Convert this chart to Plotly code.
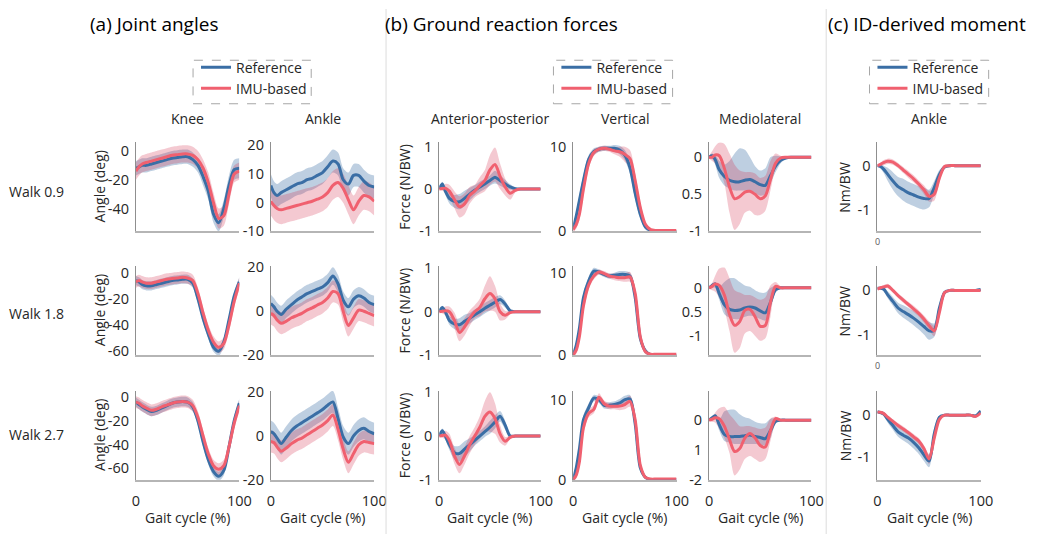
import plotly.graph_objects as go
from plotly.subplots import make_subplots

W, H = 1043, 543

# ---------------- data (gait cycle %) ----------------
GAIT = [0, 3, 6, 10, 15, 20, 25, 30, 35, 40, 45, 50, 55, 60, 65, 70, 75, 80, 85, 90, 95, 100]

# Knee angle (deg)
knee_ref_09 = [-12, -11, -10, -10, -9, -8, -7, -6, -5, -4.5, -4, -4, -6, -10, -18, -28, -44, -50, -40, -24, -13, -12]
knee_ref_09_sd = [5, 5, 5, 5, 5, 5, 5, 5, 5, 5, 5, 5, 5, 5, 6, 6, 6, 6, 6, 7, 7, 7]
knee_imu_09 = [-14, -11, -9, -8, -7, -6, -5, -4, -3, -2.5, -2, -2, -3, -6, -12, -22, -36, -47, -45, -30, -16, -14]
knee_imu_09_sd = [6, 6, 6, 6, 6, 6, 6, 6, 6, 6, 6, 6, 6, 6, 6, 7, 7, 7, 7, 7, 6, 6]
knee_ref_18 = [-6, -7, -9, -10, -10, -9, -8, -7, -6, -5.5, -5, -5, -8, -20, -35, -47, -57, -60, -53, -36, -18, -7]
knee_ref_18_sd = [3.5] * 22
knee_imu_18 = [-7, -6, -7, -8, -8, -7, -6, -5, -4.5, -4, -3.5, -4, -6, -16, -31, -44, -53, -57, -54, -40, -22, -8]
knee_imu_18_sd = [4.5] * 22
knee_ref_27 = [-4, -6, -8, -10, -12, -11, -9, -7, -5, -4, -3.5, -4, -8, -20, -38, -53, -63, -67, -62, -42, -20, -5]
knee_ref_27_sd = [4] * 22
knee_imu_27 = [-4, -5, -7, -9, -11, -10, -8, -6.5, -5, -4, -3.5, -4, -7, -17, -33, -48, -58, -61, -58, -42, -22, -7]
knee_imu_27_sd = [5] * 22

# Ankle angle (deg)
ankle_ref_09 = [6, 3.5, 2.5, 3.5, 4.5, 5.5, 6.5, 7, 8, 8.5, 9.5, 10.5, 12.5, 14.5, 13.5, 8, 6.5, 9.5, 9.5, 7.5, 6, 5.5]
ankle_ref_09_sd = [4] * 22
ankle_imu_09 = [0.5, -1, -2, -2.5, -2, -1.5, -1, -0.5, 0, 0.5, 1.2, 2, 3.5, 6, 7, 5, 1, -2.5, 0.5, 2.5, 2, 0.5]
ankle_imu_09_sd = [5] * 22
ankle_ref_18 = [3.5, 2, 0, -1.5, 1, 3, 5, 6.5, 8, 9, 10, 11, 13, 16, 12.5, 5, 2, 5.5, 7, 6, 4, 3]
ankle_ref_18_sd = [4] * 22
ankle_imu_18 = [-1, -2, -4, -5.5, -4.5, -3, -2, -1, 0.5, 1.5, 2.8, 4, 6, 9, 8, 0, -6.5, -3, 0.5, 0, -1, -2]
ankle_imu_18_sd = [5] * 22
ankle_ref_27 = [2, 1, -1, -3.5, -0.5, 2.5, 4.5, 6, 7.5, 9, 10.5, 12, 14, 15.5, 8, -0.5, -3.5, 0, 2.5, 3.5, 2, 1]
ankle_ref_27_sd = [5] * 22
ankle_imu_27 = [-2.5, -3, -5, -7, -5.5, -3.5, -2, -1, 0.5, 2, 3.5, 5, 7, 9.5, 3, -6, -12, -8, -4, -2.5, -3, -3.5]
ankle_imu_27_sd = [5] * 22

# Anterior-posterior GRF
ap_ref_09 = [0, 0.12, -0.05, -0.22, -0.29, -0.3, -0.22, -0.12, -0.03, 0.05, 0.12, 0.2, 0.28, 0.2, 0.12, 0.05, 0.01, 0, 0, 0, 0, 0]
ap_ref_09_sd = [0.02, 0.05, 0.08, 0.12, 0.15, 0.18, 0.18, 0.15, 0.12, 0.12, 0.12, 0.12, 0.15, 0.12, 0.1, 0.06, 0.03, 0.01, 0.01, 0.01, 0.01, 0.01]
ap_imu_09 = [0, 0.01, 0.02, -0.05, -0.25, -0.42, -0.35, -0.15, -0.05, 0.08, 0.2, 0.45, 0.58, 0.3, 0.05, -0.1, -0.03, 0, 0, 0, 0, 0]
ap_imu_09_sd = [0.02, 0.05, 0.1, 0.15, 0.2, 0.25, 0.25, 0.2, 0.15, 0.2, 0.25, 0.35, 0.4, 0.3, 0.2, 0.15, 0.05, 0.02, 0.01, 0.01, 0.01, 0.01]
ap_ref_18 = [0, 0.1, 0.0, -0.2, -0.28, -0.3, -0.22, -0.15, -0.07, 0.0, 0.08, 0.15, 0.22, 0.28, 0.18, 0.02, 0, 0, 0, 0, 0, 0]
ap_ref_18_sd = [0.02, 0.04, 0.06, 0.1, 0.12, 0.15, 0.15, 0.12, 0.12, 0.12, 0.12, 0.12, 0.12, 0.1, 0.08, 0.03, 0.01, 0.01, 0.01, 0.01, 0.01, 0.01]
ap_imu_18 = [0, 0.01, 0.02, 0.0, -0.2, -0.48, -0.35, -0.15, 0.0, 0.1, 0.3, 0.42, 0.3, 0.0, -0.08, -0.02, 0, 0, 0, 0, 0, 0]
ap_imu_18_sd = [0.02, 0.05, 0.1, 0.12, 0.18, 0.2, 0.2, 0.18, 0.15, 0.2, 0.3, 0.4, 0.3, 0.2, 0.1, 0.04, 0.01, 0.01, 0.01, 0.01, 0.01, 0.01]
ap_ref_27 = [0, 0.12, 0.0, -0.2, -0.38, -0.4, -0.3, -0.2, -0.1, 0.0, 0.1, 0.2, 0.32, 0.45, 0.25, 0.0, 0, 0, 0, 0, 0, 0]
ap_ref_27_sd = [0.02, 0.05, 0.08, 0.12, 0.15, 0.18, 0.18, 0.15, 0.12, 0.12, 0.12, 0.15, 0.15, 0.12, 0.1, 0.03, 0.01, 0.01, 0.01, 0.01, 0.01, 0.01]
ap_imu_27 = [0, 0.01, 0.02, -0.1, -0.45, -0.65, -0.45, -0.2, 0.0, 0.2, 0.45, 0.55, 0.4, 0.05, -0.12, -0.03, 0, 0, 0, 0, 0, 0]
ap_imu_27_sd = [0.02, 0.05, 0.1, 0.15, 0.18, 0.2, 0.2, 0.2, 0.2, 0.25, 0.35, 0.45, 0.35, 0.2, 0.1, 0.04, 0.01, 0.01, 0.01, 0.01, 0.01, 0.01]

# Vertical GRF
vt_ref_09 = [0.3, 1.8, 3.6, 6, 8.5, 9.4, 9.7, 9.8, 9.8, 9.8, 9.6, 9.0, 7.5, 4.5, 2, 0.5, 0.1, 0, 0, 0, 0, 0]
vt_ref_09_sd = [0.3, 0.5, 0.7, 0.7, 0.5, 0.4, 0.3, 0.3, 0.3, 0.4, 0.5, 0.6, 0.7, 0.7, 0.5, 0.3, 0.1, 0.05, 0.05, 0.05, 0.05, 0.05]
vt_imu_09 = [0.2, 0.8, 2, 5, 8, 9.3, 9.7, 9.8, 9.7, 9.5, 9.4, 9.1, 8.6, 6, 2.8, 0.8, 0.2, 0.1, 0.1, 0.1, 0.1, 0.1]
vt_imu_09_sd = [0.3, 0.5, 0.7, 0.8, 0.6, 0.4, 0.3, 0.3, 0.3, 0.4, 0.6, 0.9, 1.0, 0.8, 0.6, 0.3, 0.1, 0.05, 0.05, 0.05, 0.05, 0.05]
vt_ref_18 = [0, 1.2, 3.2, 7, 9, 10.2, 10.1, 9.8, 9.6, 9.7, 9.8, 9.8, 9.6, 7, 2, 0.5, 0.05, 0, 0, 0, 0, 0]
vt_ref_18_sd = [0.2, 0.4, 0.6, 0.6, 0.5, 0.4, 0.3, 0.3, 0.3, 0.3, 0.4, 0.4, 0.4, 0.6, 0.5, 0.3, 0.05, 0.05, 0.05, 0.05, 0.05, 0.05]
vt_imu_18 = [0, 0.6, 2.2, 6, 8.5, 9.6, 10.1, 9.9, 9.6, 9.5, 9.4, 9.4, 9.5, 7.5, 2.2, 0.4, 0.1, 0.1, 0.1, 0.1, 0.1, 0.1]
vt_imu_18_sd = [0.2, 0.4, 0.6, 0.7, 0.5, 0.4, 0.3, 0.3, 0.3, 0.4, 0.4, 0.5, 0.6, 0.7, 0.5, 0.3, 0.05, 0.05, 0.05, 0.05, 0.05, 0.05]
vt_ref_27 = [0, 1.5, 3.8, 7.5, 9, 10.2, 10.0, 9.3, 9.3, 9.4, 9.6, 10.0, 10.1, 7, 1.5, 0.3, 0, 0, 0, 0, 0, 0]
vt_ref_27_sd = [0.2, 0.4, 0.6, 0.6, 0.5, 0.4, 0.4, 0.4, 0.4, 0.4, 0.5, 0.5, 0.5, 0.6, 0.4, 0.2, 0.05, 0.05, 0.05, 0.05, 0.05, 0.05]
vt_imu_27 = [0, 0.6, 2.2, 6.5, 8.3, 8.8, 10.3, 9.5, 9.2, 9.2, 9.2, 9.4, 9.8, 7.5, 1.8, 0.3, 0.1, 0.1, 0.1, 0.1, 0.1, 0.1]
vt_imu_27_sd = [0.2, 0.4, 0.6, 0.7, 0.5, 0.5, 0.5, 0.4, 0.4, 0.4, 0.5, 0.6, 0.7, 0.7, 0.5, 0.2, 0.05, 0.05, 0.05, 0.05, 0.05, 0.05]

# Mediolateral GRF (mean, lower, upper band edges)
ml_ref_09 = [0, 0.02, -0.03, -0.17, -0.26, -0.31, -0.33, -0.33, -0.31, -0.30, -0.33, -0.37, -0.38, -0.25, -0.12, -0.04, -0.01, 0, 0, 0, 0, 0]
ml_ref_09_lo = [-0.02, -0.02, -0.1, -0.28, -0.38, -0.42, -0.45, -0.45, -0.45, -0.45, -0.48, -0.52, -0.5, -0.35, -0.2, -0.08, -0.02, 0, 0, 0, 0, 0]
ml_ref_09_hi = [0.02, 0.05, 0.03, -0.05, -0.1, -0.05, 0.05, 0.12, 0.1, 0.0, -0.12, -0.18, -0.15, 0.0, 0.02, 0.01, 0.0, 0, 0, 0, 0, 0]
ml_imu_09 = [0, 0.0, 0.03, 0.02, -0.15, -0.4, -0.56, -0.53, -0.47, -0.46, -0.5, -0.56, -0.52, -0.3, -0.08, -0.01, 0, 0, 0, 0, 0, 0]
ml_imu_09_lo = [-0.02, -0.05, -0.08, -0.15, -0.35, -0.75, -0.98, -0.9, -0.75, -0.72, -0.78, -0.78, -0.72, -0.45, -0.15, -0.03, 0, 0, 0, 0, 0, 0]
ml_imu_09_hi = [0.02, 0.08, 0.15, 0.2, 0.18, 0.05, -0.1, -0.18, -0.2, -0.2, -0.22, -0.28, -0.25, -0.05, 0.05, 0.02, 0, 0, 0, 0, 0, 0]
ml_ref_18 = [0, 0.05, 0.08, -0.12, -0.35, -0.45, -0.47, -0.46, -0.42, -0.4, -0.42, -0.48, -0.52, -0.3, -0.04, 0, 0, 0, 0, 0, 0, 0]
ml_ref_18_lo = [-0.02, 0.0, 0.0, -0.25, -0.55, -0.62, -0.65, -0.65, -0.6, -0.58, -0.6, -0.65, -0.68, -0.45, -0.1, -0.02, 0, 0, 0, 0, 0, 0]
ml_ref_18_hi = [0.02, 0.08, 0.12, 0.02, 0.12, 0.2, 0.2, 0.12, 0.05, 0.02, -0.05, -0.1, -0.1, 0.0, 0.05, 0.02, 0, 0, 0, 0, 0, 0]
ml_imu_18 = [0, 0.03, 0.08, 0.05, -0.15, -0.55, -0.78, -0.7, -0.47, -0.45, -0.6, -0.8, -0.78, -0.3, 0.03, 0.0, 0, 0, 0, 0, 0, 0]
ml_imu_18_lo = [-0.02, -0.05, -0.08, -0.2, -0.45, -0.9, -1.35, -1.25, -0.95, -0.9, -1.0, -1.1, -1.05, -0.6, -0.05, -0.02, 0, 0, 0, 0, 0, 0]
ml_imu_18_hi = [0.02, 0.1, 0.25, 0.4, 0.42, 0.2, -0.05, -0.1, -0.15, -0.15, -0.2, -0.25, -0.2, 0.05, 0.12, 0.03, 0, 0, 0, 0, 0, 0]
ml_ref_27 = [0, 0.08, 0.15, -0.15, -0.48, -0.55, -0.55, -0.55, -0.52, -0.5, -0.55, -0.58, -0.62, -0.35, -0.04, 0, 0, 0, 0, 0, 0, 0]
ml_ref_27_lo = [-0.02, 0.03, 0.08, -0.35, -0.7, -0.75, -0.8, -0.8, -0.8, -0.8, -0.8, -0.82, -0.85, -0.6, -0.12, -0.02, 0, 0, 0, 0, 0, 0]
ml_ref_27_hi = [0.02, 0.12, 0.2, 0.02, 0.3, 0.35, 0.35, 0.2, 0.1, 0.05, -0.05, -0.1, -0.1, 0.05, 0.06, 0.02, 0, 0, 0, 0, 0, 0]
ml_imu_27 = [0, 0.03, 0.08, 0.05, -0.2, -0.65, -1.05, -0.95, -0.6, -0.45, -0.6, -0.85, -0.9, -0.35, 0.05, 0, 0, 0, 0, 0, 0, 0]
ml_imu_27_lo = [-0.02, -0.05, -0.08, -0.3, -0.6, -1.1, -1.85, -1.65, -1.3, -1.2, -1.3, -1.4, -1.3, -0.7, -0.1, -0.02, 0, 0, 0, 0, 0, 0]
ml_imu_27_hi = [0.02, 0.1, 0.25, 0.4, 0.45, 0.2, 0.0, -0.2, -0.2, -0.2, -0.25, -0.3, -0.25, 0.05, 0.12, 0.03, 0, 0, 0, 0, 0, 0]

# ID-derived ankle moment (Nm/BW)
mom_ref_09 = [0, -0.02, -0.08, -0.2, -0.35, -0.48, -0.55, -0.62, -0.67, -0.72, -0.75, -0.75, -0.5, -0.2, -0.03, 0, 0, 0, 0, 0, 0, 0]
mom_ref_09_sd = [0.02, 0.05, 0.08, 0.15, 0.2, 0.22, 0.25, 0.25, 0.25, 0.25, 0.25, 0.2, 0.15, 0.1, 0.03, 0.01, 0.01, 0.01, 0.01, 0.01, 0.01, 0.01]
mom_imu_09 = [0, 0.03, 0.07, 0.1, 0.08, 0.0, -0.1, -0.2, -0.3, -0.42, -0.55, -0.7, -0.65, -0.28, -0.02, 0, 0, 0, 0, 0, 0, 0]
mom_imu_09_sd = [0.02, 0.04, 0.06, 0.06, 0.06, 0.06, 0.07, 0.08, 0.08, 0.08, 0.1, 0.12, 0.15, 0.1, 0.04, 0.01, 0.01, 0.01, 0.01, 0.01, 0.01, 0.01]
mom_ref_18 = [0.05, 0.05, 0.03, -0.1, -0.25, -0.4, -0.48, -0.55, -0.63, -0.72, -0.82, -0.92, -0.9, -0.4, -0.05, 0, 0, 0, 0, 0, 0, 0.02]
mom_ref_18_sd = [0.02, 0.03, 0.05, 0.08, 0.1, 0.12, 0.14, 0.15, 0.16, 0.17, 0.18, 0.2, 0.15, 0.1, 0.05, 0.01, 0.01, 0.01, 0.01, 0.01, 0.01, 0.01]
mom_imu_18 = [0.03, 0.06, 0.08, 0.1, 0.0, -0.12, -0.22, -0.32, -0.42, -0.52, -0.65, -0.8, -0.92, -0.5, -0.05, 0, 0, 0, 0, 0, 0, 0]
mom_imu_18_sd = [0.02, 0.03, 0.04, 0.05, 0.05, 0.05, 0.06, 0.06, 0.07, 0.07, 0.08, 0.1, 0.12, 0.1, 0.04, 0.01, 0.01, 0.01, 0.01, 0.01, 0.01, 0.01]
mom_ref_27 = [0.08, 0.06, 0.03, -0.1, -0.25, -0.4, -0.48, -0.55, -0.65, -0.78, -0.95, -1.1, -0.45, -0.05, 0, 0, 0, 0, 0, 0, -0.02, 0.1]
mom_ref_27_sd = [0.02, 0.03, 0.05, 0.08, 0.1, 0.12, 0.13, 0.14, 0.15, 0.15, 0.15, 0.15, 0.15, 0.05, 0.02, 0.01, 0.01, 0.01, 0.01, 0.01, 0.01, 0.02]
mom_imu_27 = [0.07, 0.07, 0.04, -0.05, -0.15, -0.25, -0.33, -0.42, -0.52, -0.62, -0.8, -1.05, -0.55, -0.1, 0, 0, 0, 0, 0, 0, -0.03, 0.05]
mom_imu_27_sd = [0.02, 0.03, 0.04, 0.05, 0.05, 0.06, 0.06, 0.06, 0.07, 0.07, 0.08, 0.12, 0.12, 0.05, 0.02, 0.01, 0.01, 0.01, 0.01, 0.01, 0.01, 0.01]

# Labels, axis ranges / ticks per panel
ROW_LABELS = ["Walk 0.9", "Walk 1.8", "Walk 2.7"]
COL_TITLES = ["Knee", "Ankle", "Anterior-posterior", "Vertical", "Mediolateral", "Ankle"]
SECTION_TITLES = ["(a) Joint angles", "(b) Ground reaction forces", "(c) ID-derived moment"]
LEGEND_NAMES = ["Reference", "IMU-based"]

YRANGES = [
    [[-56, 6], [-10, 21], [-1, 1.1], [0, 10.5], [-1, 0.2], [-1.5, 0.53]],
    [[-63, 5], [-20, 20.5], [-1, 1.05], [0, 10.8], [-1.4, 0.45], [-1.47, 0.55]],
    [[-70, 5.5], [-20, 20.5], [-1, 1.03], [0, 11.1], [-2, 0.98], [-1.55, 0.58]],
]
YTICKS = [
    [([0, -20, -40], ["0", "-20", "-40"]), ([-10, 0, 10, 20], ["-10", "0", "10", "20"]),
     ([-1, 0, 1], ["-1", "0", "1"]), ([0, 5, 10], ["0", "", "10"]),
     ([-1, -0.5, 0], ["-1", "0.5", "0"]), ([-1, 0], ["-1", "0"])],
    [([0, -20, -40, -60], ["0", "-20", "-40", "-60"]), ([-20, 0, 20], ["-20", "0", "20"]),
     ([-1, 0, 1], ["-1", "0", "1"]), ([0, 5, 10], ["0", "", "10"]),
     ([-1, -0.5, 0], ["-1", "0.5", "0"]), ([-1, 0], ["-1", "0"])],
    [([0, -20, -40, -60], ["0", "-20", "-40", "-60"]), ([-20, 0, 20], ["-20", "0", "20"]),
     ([-1, 0, 1], ["-1", "0", "1"]), ([0, 5, 10], ["0", "", "10"]),
     ([-2, -1, 0], ["-2", "1", "0"]), ([-1, 0], ["-1", "0"])],
]

PANELS = [
    [("sd", knee_ref_09, knee_ref_09_sd, knee_imu_09, knee_imu_09_sd),
     ("sd", ankle_ref_09, ankle_ref_09_sd, ankle_imu_09, ankle_imu_09_sd),
     ("sd", ap_ref_09, ap_ref_09_sd, ap_imu_09, ap_imu_09_sd),
     ("sd", vt_ref_09, vt_ref_09_sd, vt_imu_09, vt_imu_09_sd),
     ("lohi", ml_ref_09, ml_ref_09_lo, ml_ref_09_hi, ml_imu_09, ml_imu_09_lo, ml_imu_09_hi),
     ("sd", mom_ref_09, mom_ref_09_sd, mom_imu_09, mom_imu_09_sd)],
    [("sd", knee_ref_18, knee_ref_18_sd, knee_imu_18, knee_imu_18_sd),
     ("sd", ankle_ref_18, ankle_ref_18_sd, ankle_imu_18, ankle_imu_18_sd),
     ("sd", ap_ref_18, ap_ref_18_sd, ap_imu_18, ap_imu_18_sd),
     ("sd", vt_ref_18, vt_ref_18_sd, vt_imu_18, vt_imu_18_sd),
     ("lohi", ml_ref_18, ml_ref_18_lo, ml_ref_18_hi, ml_imu_18, ml_imu_18_lo, ml_imu_18_hi),
     ("sd", mom_ref_18, mom_ref_18_sd, mom_imu_18, mom_imu_18_sd)],
    [("sd", knee_ref_27, knee_ref_27_sd, knee_imu_27, knee_imu_27_sd),
     ("sd", ankle_ref_27, ankle_ref_27_sd, ankle_imu_27, ankle_imu_27_sd),
     ("sd", ap_ref_27, ap_ref_27_sd, ap_imu_27, ap_imu_27_sd),
     ("sd", vt_ref_27, vt_ref_27_sd, vt_imu_27, vt_imu_27_sd),
     ("lohi", ml_ref_27, ml_ref_27_lo, ml_ref_27_hi, ml_imu_27, ml_imu_27_lo, ml_imu_27_hi),
     ("sd", mom_ref_27, mom_ref_27_sd, mom_imu_27, mom_imu_27_sd)],
]

# ---------------- style ----------------
FONT = "Open Sans"
TXT = "#262626"
BLUE = "#3a6ea5"
RED = "#f0606f"
BLUE_BAND = "rgba(58,110,165,0.33)"
RED_BAND = "rgba(210,40,70,0.25)"

COL_PX = [(134, 239), (271, 376), (442, 545), (578, 683), (716, 820), (887, 992)]
ROW_PX = [(138, 230), (266, 358), (395, 487)]


def px_x(v):
    return v / W


def px_y(v):
    return 1 - v / H


fig = make_subplots(rows=3, cols=6)

LEGEND_OF = {(0, 0): "legend", (0, 2): "legend2", (0, 5): "legend3"}

for r in range(3):
    for c in range(6):
        p = PANELS[r][c]
        if p[0] == "sd":
            ref_m, ref_sd, imu_m, imu_sd = p[1], p[2], p[3], p[4]
            ref_lo = [m - s for m, s in zip(ref_m, ref_sd)]
            ref_hi = [m + s for m, s in zip(ref_m, ref_sd)]
            imu_lo = [m - s for m, s in zip(imu_m, imu_sd)]
            imu_hi = [m + s for m, s in zip(imu_m, imu_sd)]
        else:
            ref_m, ref_lo, ref_hi, imu_m, imu_lo, imu_hi = p[1:]
        leg = LEGEND_OF.get((r, c))
        for lo, hi, col in [(ref_lo, ref_hi, BLUE_BAND), (imu_lo, imu_hi, RED_BAND)]:
            fig.add_trace(go.Scatter(x=GAIT, y=lo, mode="lines", line=dict(width=0, shape="spline", smoothing=0.8),
                                     showlegend=False, hoverinfo="skip"), row=r + 1, col=c + 1)
            fig.add_trace(go.Scatter(x=GAIT, y=hi, mode="lines", line=dict(width=0, shape="spline", smoothing=0.8),
                                     fill="tonexty", fillcolor=col, showlegend=False, hoverinfo="skip"),
                          row=r + 1, col=c + 1)
        for m, colr, name in [(ref_m, BLUE, LEGEND_NAMES[0]), (imu_m, RED, LEGEND_NAMES[1])]:
            if leg:
                kw = dict(showlegend=True, legend=leg)
            else:
                kw = dict(showlegend=False)
            fig.add_trace(go.Scatter(x=GAIT, y=m, mode="lines", name=name,
                                     line=dict(color=colr, width=3, shape="spline", smoothing=0.8), **kw),
                          row=r + 1, col=c + 1)

# axes
for r in range(3):
    for c in range(6):
        idx = r * 6 + c + 1
        xa = "xaxis" if idx == 1 else f"xaxis{idx}"
        ya = "yaxis" if idx == 1 else f"yaxis{idx}"
        x0, x1 = COL_PX[c]
        y0, y1 = ROW_PX[r]
        tv, tt = YTICKS[r][c]
        fig.layout[xa].update(domain=[px_x(x0), px_x(x1)], range=[0, 100], showgrid=False, zeroline=False,
                              showline=True, linecolor="#b5b5b5", linewidth=2,
                              tickvals=[0, 100] if r == 2 else [], ticktext=["0", "100"] if r == 2 else [],
                              ticks="outside", ticklen=7, tickcolor="rgba(0,0,0,0)",
                              tickfont=dict(family=FONT, size=14.5, color=TXT))
        fig.layout[ya].update(domain=[px_y(y1), px_y(y0)], range=YRANGES[r][c], showgrid=False, zeroline=False,
                              showline=True, linecolor="#8f8f8f", linewidth=1,
                              tickvals=tv, ticktext=tt, ticks="outside", ticklen=3, tickcolor="rgba(0,0,0,0)",
                              tickfont=dict(family=FONT, size=14.5, color=TXT))

ann = []
# section titles
for txt, xc in zip(SECTION_TITLES, [152, 505, 937]):
    ann.append(dict(text=txt, x=px_x(xc), y=px_y(15), xref="paper", yref="paper", showarrow=False,
                    xanchor="center", yanchor="middle", font=dict(family=FONT, size=19, color="#000000")))
# column titles
for txt, (x0, x1) in zip(COL_TITLES, COL_PX):
    ann.append(dict(text=txt, x=px_x((x0 + x1) / 2), y=px_y(113), xref="paper", yref="paper", showarrow=False,
                    xanchor="center", yanchor="middle", font=dict(family=FONT, size=14, color=TXT)))
# row labels
for txt, yc in zip(ROW_LABELS, [189, 315, 440]):
    ann.append(dict(text=txt, x=px_x(3), y=px_y(yc), xref="paper", yref="paper", showarrow=False,
                    xanchor="left", yanchor="middle", font=dict(family=FONT, size=14, color=TXT)))
# y-axis titles
for r in range(3):
    yc = (ROW_PX[r][0] + ROW_PX[r][1]) / 2
    for txt, xc in [("Angle (deg)", 97), ("Force (N/BW)", 407), ("Nm/BW", 854)]:
        ann.append(dict(text=txt, x=px_x(xc), y=px_y(yc), xref="paper", yref="paper", showarrow=False,
                        textangle=-90, xanchor="center", yanchor="middle",
                        font=dict(family=FONT, size=14, color=TXT)))
# x-axis titles
for (x0, x1) in COL_PX:
    ann.append(dict(text="Gait cycle (%)", x=px_x((x0 + x1) / 2), y=px_y(526), xref="paper", yref="paper",
                    showarrow=False, xanchor="center", yanchor="middle",
                    font=dict(family=FONT, size=14, color=TXT)))
# residual small tick label under moment panels
for yc in [240, 369]:
    ann.append(dict(text="0", x=px_x(887), y=px_y(yc), xref="paper", yref="paper", showarrow=False,
                    xanchor="center", yanchor="middle", font=dict(family=FONT, size=9, color="#595959")))

shapes = []
# separators
for xs in [388, 835]:
    shapes.append(dict(type="line", xref="paper", yref="paper", x0=px_x(xs), x1=px_x(xs), y0=0, y1=1,
                       line=dict(color="#dcdcdc", width=1)))
# dashed legend boxes
for (bx0, bx1) in [(192, 312), (558, 679), (879, 1000)]:
    shapes.append(dict(type="rect", xref="paper", yref="paper", x0=px_x(bx0), x1=px_x(bx1),
                       y0=px_y(98), y1=px_y(53), line=dict(color="#a6a6a6", width=1, dash="dash")))

leg_common = dict(font=dict(family=FONT, size=14, color=TXT), bgcolor="rgba(0,0,0,0)", borderwidth=0,
                  xanchor="left", yanchor="top", tracegroupgap=0, itemwidth=30, traceorder="normal")
fig.update_layout(
    width=W, height=H, margin=dict(l=0, r=0, t=0, b=0),
    paper_bgcolor="white", plot_bgcolor="white",
    font=dict(family=FONT, size=14, color=TXT),
    annotations=ann, shapes=shapes,
    legend=dict(x=px_x(195), y=px_y(44), **leg_common),
    legend2=dict(x=px_x(561), y=px_y(44), **leg_common),
    legend3=dict(x=px_x(882), y=px_y(44), **leg_common),
)

fig.write_html("out.html")
